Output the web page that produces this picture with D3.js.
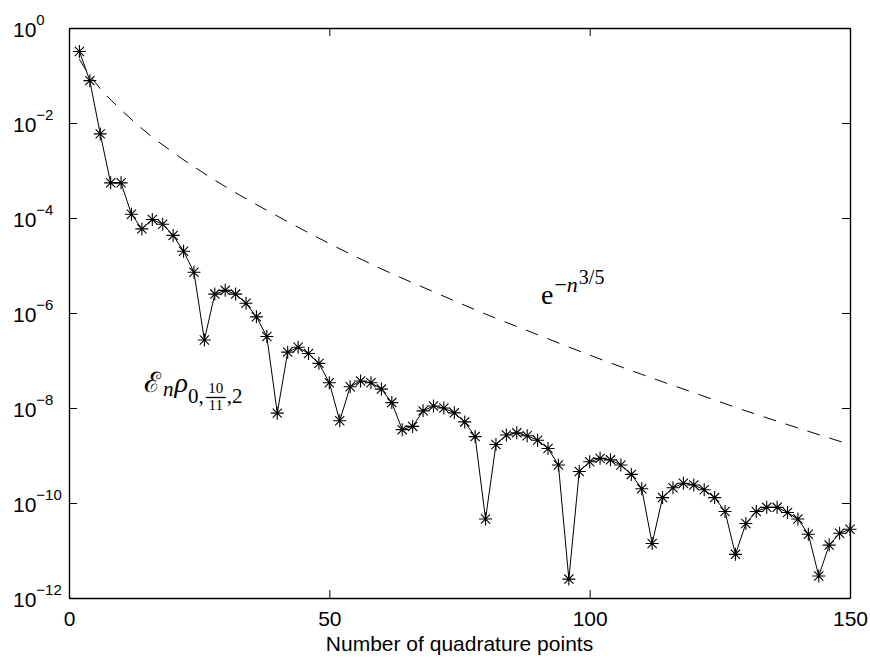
<!DOCTYPE html>
<html>
<head>
<meta charset="utf-8">
<script src="https://cdn.jsdelivr.net/npm/d3@7/dist/d3.min.js"></script>
<style>
body { margin: 0; background: #fff; }
svg { display: block; }
text { font-family: "Liberation Sans", Arial, sans-serif; fill: #000; }
.serif { font-family: "Liberation Serif", "Times New Roman", serif; }
</style>
</head>
<body>
<div class="main"></div>
<script>
const w = 870, h = 658;
const margin = {top: 28, right: 20, bottom: 60, left: 69};
const iw = w - margin.left - margin.right, ih = h - margin.top - margin.bottom;

// error of the quadrature rule, one value per even number of points
const nPoints = [2, 4, 6, 8, 10, 12, 14, 16, 18, 20, 22, 24, 26, 28, 30, 32, 34, 36, 38, 40,
    42, 44, 46, 48, 50, 52, 54, 56, 58, 60, 62, 64, 66, 68, 70, 72, 74, 76, 78, 80,
    82, 84, 86, 88, 90, 92, 94, 96, 98, 100, 102, 104, 106, 108, 110, 112, 114, 116, 118, 120,
    122, 124, 126, 128, 130, 132, 134, 136, 138, 140, 142, 144, 146, 148, 150];
const errValues = [3.2e-1, 7.8e-2, 5.9e-3, 5.5e-4, 5.5e-4, 1.2e-4, 5.9e-5, 9.3e-5, 7.4e-5, 4.3e-5,
    2.0e-5, 7.2e-6, 2.7e-7, 2.5e-6, 3.0e-6, 2.5e-6, 1.6e-6, 8.3e-7, 3.2e-7, 7.8e-9,
    1.5e-7, 1.9e-7, 1.4e-7, 8.7e-8, 3.4e-8, 5.4e-9, 2.8e-8, 3.7e-8, 3.4e-8, 2.5e-8,
    1.3e-8, 3.5e-9, 4.1e-9, 8.7e-9, 1.1e-8, 1.0e-8, 7.9e-9, 5.1e-9, 2.5e-9, 4.6e-11,
    1.7e-9, 2.7e-9, 3.0e-9, 2.6e-9, 2.1e-9, 1.4e-9, 6.3e-10, 2.5e-12, 4.6e-10, 7.4e-10,
    8.7e-10, 8.1e-10, 6.3e-10, 4.0e-10, 2.0e-10, 1.4e-11, 1.3e-10, 2.1e-10, 2.6e-10, 2.4e-10,
    1.9e-10, 1.3e-10, 6.6e-11, 8.3e-12, 3.7e-11, 6.6e-11, 8.1e-11, 8.1e-11, 6.3e-11, 4.6e-11,
    2.2e-11, 2.9e-12, 1.3e-11, 2.3e-11, 2.8e-11];

// dashed reference curve e^{-n^{3/5}}, sampled off the plot
const refN = [2, 3, 5, 10, 15, 20, 30, 40, 50, 60, 70, 80, 90, 100, 110, 120, 130, 140, 150];
const refValues = [2.2e-1, 1.45e-1, 7.2e-2, 1.9e-2, 6.2e-3, 2.4e-3, 4.6e-4, 1.1e-4, 2.9e-5, 8.5e-6,
    2.8e-6, 9.5e-7, 3.5e-7, 1.3e-7, 5.1e-8, 2.1e-8, 8.7e-9, 3.8e-9, 1.7e-9];

const xTicks = [0, 50, 100, 150];
const yTickExps = [0, -2, -4, -6, -8, -10, -12];
const xLabel = 'Number of quadrature points';

const svg = d3.select('.main')
            .append('svg')
            .attr('width', w)
            .attr('height', h)

svg.append('rect').attr('width', w).attr('height', h).attr('fill', '#fff')

const g = svg.append('g')
            .attr('transform', `translate(${margin.left}, ${margin.top})`)

const x = d3.scaleLinear().domain([0, 150]).range([0, iw]);
const y = d3.scaleLog().domain([1e-12, 1]).range([ih, 0]);

// axes, ticks pointing inwards on all four sides
const tick = 8;
const styleAxis = sel => {
    sel.selectAll('path').attr('stroke', '#000').attr('stroke-width', 1.4)
    sel.selectAll('line').attr('stroke', '#000').attr('stroke-width', 1)
}
g.append('g')
    .attr('transform', `translate(0, ${ih})`)
    .call(d3.axisBottom(x).tickValues(xTicks).tickSize(-tick).tickSizeOuter(0).tickPadding(13))
    .call(styleAxis)
    .selectAll('text')
    .style('font-size', '21px')
    .style('font-family', '"Liberation Sans", Arial, sans-serif')
    .attr('fill', '#000')
g.append('g')
    .call(d3.axisTop(x).tickValues(xTicks).tickSize(-tick).tickSizeOuter(0).tickFormat(''))
    .call(styleAxis)
g.append('g')
    .call(d3.axisLeft(y).tickValues(yTickExps.map(e => Math.pow(10, e))).tickSize(-tick).tickSizeOuter(0).tickFormat(''))
    .call(styleAxis)
g.append('g')
    .attr('transform', `translate(${iw}, 0)`)
    .call(d3.axisRight(y).tickValues(yTickExps.map(e => Math.pow(10, e))).tickSize(-tick).tickSizeOuter(0).tickFormat(''))
    .call(styleAxis)

// y tick labels as 10^k
const yLab = svg.selectAll('.ylab')
    .data(yTickExps)
    .enter()
    .append('text')
    .attr('class', 'ylab')
    .attr('x', 13)
    .attr('y', d => margin.top + y(Math.pow(10, d)) + 9)
    .style('font-size', '21px')
yLab.append('tspan').text('10')
yLab.append('tspan')
    .attr('dy', -12)
    .style('font-size', '15px')
    .text(d => d === 0 ? '0' : '\u2212' + Math.abs(d))

svg.append('text')
    .attr('x', margin.left + iw / 2)
    .attr('y', 651)
    .attr('text-anchor', 'middle')
    .style('font-size', '21px')
    .text(xLabel)

// dashed reference line
const refLine = d3.line()
    .x((d, i) => x(refN[i]))
    .y(d => y(d))
    .curve(d3.curveMonotoneX)
g.append('path')
    .datum(refValues)
    .attr('d', refLine)
    .attr('fill', 'none')
    .attr('stroke', '#000')
    .attr('stroke-width', 1)
    .attr('stroke-dasharray', '13,10')

// error line with asterisk markers
const errLine = d3.line()
    .x((d, i) => x(nPoints[i]))
    .y(d => y(d))
g.append('path')
    .datum(errValues)
    .attr('d', errLine)
    .attr('fill', 'none')
    .attr('stroke', '#000')
    .attr('stroke-width', 1)

const star = (cx, cy) => {
    const a = 6.5, b = 4.6;
    return `M${cx - a},${cy}H${cx + a}M${cx},${cy - a}V${cy + a}` +
        `M${cx - b},${cy - b}L${cx + b},${cy + b}M${cx - b},${cy + b}L${cx + b},${cy - b}`
}
g.selectAll('.star')
    .data(errValues)
    .enter()
    .append('path')
    .attr('class', 'star')
    .attr('d', (d, i) => star(x(nPoints[i]), y(d)))
    .attr('fill', 'none')
    .attr('stroke', '#000')
    .attr('stroke-width', 1.1)

// annotations
const eq1 = svg.append('text')
    .attr('class', 'serif')
    .attr('x', 541)
    .attr('y', 304)
    .style('font-size', '28px')
eq1.append('tspan').text('e')
eq1.append('tspan').attr('dy', -12).attr('dx', 1).style('font-size', '22px').text('\u2212')
eq1.append('tspan').style('font-size', '22px').style('font-style', 'italic').text('n')
eq1.append('tspan').attr('dy', -8).attr('dx', 1).style('font-size', '20px').text('3/5')

const eq2 = svg.append('text')
    .attr('class', 'serif')
    .attr('x', 144)
    .attr('y', 392)
    .style('font-size', '28px')
eq2.append('tspan').text('\u2130')
eq2.append('tspan').attr('dy', 4).attr('dx', 2).style('font-size', '21px').style('font-style', 'italic').text('n')
eq2.append('tspan').attr('dy', -4).attr('dx', 1).style('font-style', 'italic').text('\u03c1')
eq2.append('tspan').attr('dy', 11).style('font-size', '21px').text('0,')
const bx = eq2.node().getBBox();
const fx = bx.x + bx.width + 2;
svg.append('text').attr('class', 'serif').attr('x', fx + 10).attr('y', 393)
    .attr('text-anchor', 'middle').style('font-size', '15px').text('10')
svg.append('line').attr('x1', fx).attr('x2', fx + 20).attr('y1', 397.5).attr('y2', 397.5)
    .attr('stroke', '#000').attr('stroke-width', 1.3)
svg.append('text').attr('class', 'serif').attr('x', fx + 10).attr('y', 410)
    .attr('text-anchor', 'middle').style('font-size', '15px').text('11')
svg.append('text').attr('class', 'serif').attr('x', fx + 21).attr('y', 403)
    .style('font-size', '21px').text(',2')
</script>
</body>
</html>
